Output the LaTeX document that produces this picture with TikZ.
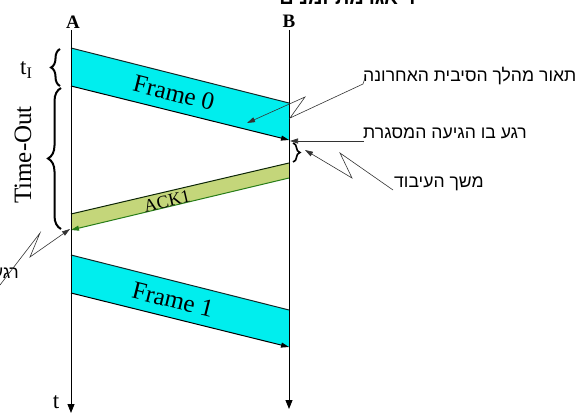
\documentclass[tikz,border=0pt]{standalone}
\usepackage{fontspec}
\setmainfont{Liberation Serif}
\newfontfamily\heb[Script=Hebrew]{Liberation Sans}
\TeXXeTstate=1
\usetikzlibrary{decorations.pathreplacing,arrows.meta}
\definecolor{framecyan}{RGB}{0,238,238}
\definecolor{ackgreen}{RGB}{196,214,122}
\definecolor{ackline}{RGB}{40,125,25}
\definecolor{edgedark}{RGB}{20,40,40}
\begin{document}
\begin{tikzpicture}[x=1pt,y=-1pt,
  axis/.style={line width=0.9pt,-{Triangle[length=9pt,width=7pt]}},
  edge/.style={draw=edgedark,line width=1pt},
  edgearrow/.style={draw=black,line width=1pt,-{Triangle[length=8pt,width=5pt]}},
  ackarrow/.style={draw=ackline,line width=1pt,-{Triangle[length=8pt,width=5pt]}},
  callout/.style={draw=black!80,line width=0.6pt,-{Triangle[length=8pt,width=5pt]}},
  calloutplain/.style={draw=black!80,line width=0.6pt},
  bracestyle/.style={draw=black,line width=2pt,decorate},
  lab/.style={font=\fontsize{19}{19}\selectfont\bfseries,inner sep=0pt},
  big/.style={font=\fontsize{23}{23}\selectfont,inner sep=0pt},
  framelab/.style={font=\fontsize{25}{25}\selectfont,inner sep=0pt},
  hebtext/.style={font=\heb\fontsize{17.6}{17.6}\selectfont,inner sep=0pt}
]
\useasboundingbox (0,0) rectangle (580,417);
\clip (0,0) rectangle (580,417);

% axes
\coordinate (Atop) at (71,30);
\coordinate (Abot) at (71,413);
\coordinate (Btop) at (289,30);
\coordinate (Bbot) at (289,409);

% Frame 0
\coordinate (F0tl) at (71,48);
\coordinate (F0tr) at (289,103);
\coordinate (F0br) at (289,140);
\coordinate (F0bl) at (71,86);
\fill[framecyan] (F0tl) -- (F0tr) -- (F0br) -- (F0bl) -- cycle;
\draw[edge] (F0tl) -- (F0tr);
\draw[edgearrow] (F0bl) -- (F0br);
\node[framelab,rotate=-14] (f0) at (174,93) {Frame 0};

% ACK1
\coordinate (Ktr) at (289,163);
\coordinate (Ktl) at (71,214);
\coordinate (Kbl) at (71,230);
\coordinate (Kbr) at (289,178);
\fill[ackgreen] (Ktr) -- (Ktl) -- (Kbl) -- (Kbr) -- cycle;
\draw[edge,draw=black!70!ackline] (Ktr) -- (Ktl);
\draw[ackarrow] (Kbr) -- (Kbl);
\node[font=\fontsize{18}{18}\selectfont,inner sep=0pt,rotate=13] (ack) at (167,201) {ACK1};

% Frame 1
\coordinate (F1tl) at (71,255);
\coordinate (F1tr) at (289,310);
\coordinate (F1br) at (289,347);
\coordinate (F1bl) at (71,293);
\fill[framecyan] (F1tl) -- (F1tr) -- (F1br) -- (F1bl) -- cycle;
\draw[edge] (F1tl) -- (F1tr);
\draw[edgearrow] (F1bl) -- (F1br);
\node[framelab,rotate=-14] (f1) at (173,300) {Frame 1};

% axes drawn over
\draw[axis] (Atop) -- (Abot);
\draw[axis] (Btop) -- (Bbot);
\node[lab] (Alab) at (73,22) {A};
\node[lab] (Blab) at (289,21) {B};
\node[big] (tlab) at (56,402) {t};

% braces
\draw[bracestyle,decoration={brace,amplitude=9pt}] (60,86) -- (60,49);
\draw[bracestyle,decoration={brace,amplitude=13pt}] (61,229) -- (61,88);
\draw[bracestyle,decoration={brace,amplitude=7pt},line width=1.6pt] (293,143) -- (293,162);
\node[big,anchor=base west] (tI) at (20,75) {t\textsubscript{I}};
\node[font=\fontsize{25}{25}\selectfont,inner sep=0pt,rotate=90] (timeout) at (23,155) {Time-Out};

% top cut text
\node[font=\heb\bfseries\fontsize{20}{20}\selectfont,inner sep=0pt,anchor=base east] (toptext) at (416,5) {\beginR דיאגרמת זמנים\endR};

% callout 1
\node[hebtext,anchor=west] (c1) at (363,76) {\beginR תאור מהלך הסיבית האחרונה\endR};
\coordinate (c1a) at (363,84);
\coordinate (c1b) at (290,118);
\coordinate (c1c) at (305,97);
\coordinate (c1t) at (247,123);
\draw[calloutplain] (365,78) -- (c1a);
\draw[callout] (c1a) -- (c1b) -- (c1c) -- (c1t);

% callout 2
\node[hebtext,anchor=west] (c2) at (363,133) {\beginR רגע בו הגיעה המסגרת\endR};
\coordinate (c2a) at (364,141);
\coordinate (c2t) at (290,141);
\draw[callout] (c2a) -- (c2t);

% callout 3
\node[hebtext,anchor=west] (c3) at (394,184) {\beginR משך העיבוד\endR};
\coordinate (c3a) at (393,190);
\coordinate (c3b) at (340,153);
\coordinate (c3c) at (352,178);
\coordinate (c3t) at (305,150);
\draw[callout] (c3a) -- (c3b) -- (c3c) -- (c3t);

% callout 4
\node[hebtext,anchor=east] (c4) at (19,273) {\beginR רגע קבלת האישור\endR};
\coordinate (c4a) at (0,285);
\coordinate (c4b) at (40,233);
\coordinate (c4c) at (30,257);
\coordinate (c4t) at (70,229);
\draw[callout] (c4a) -- (c4b) -- (c4c) -- (c4t);
\end{tikzpicture}
\end{document}
